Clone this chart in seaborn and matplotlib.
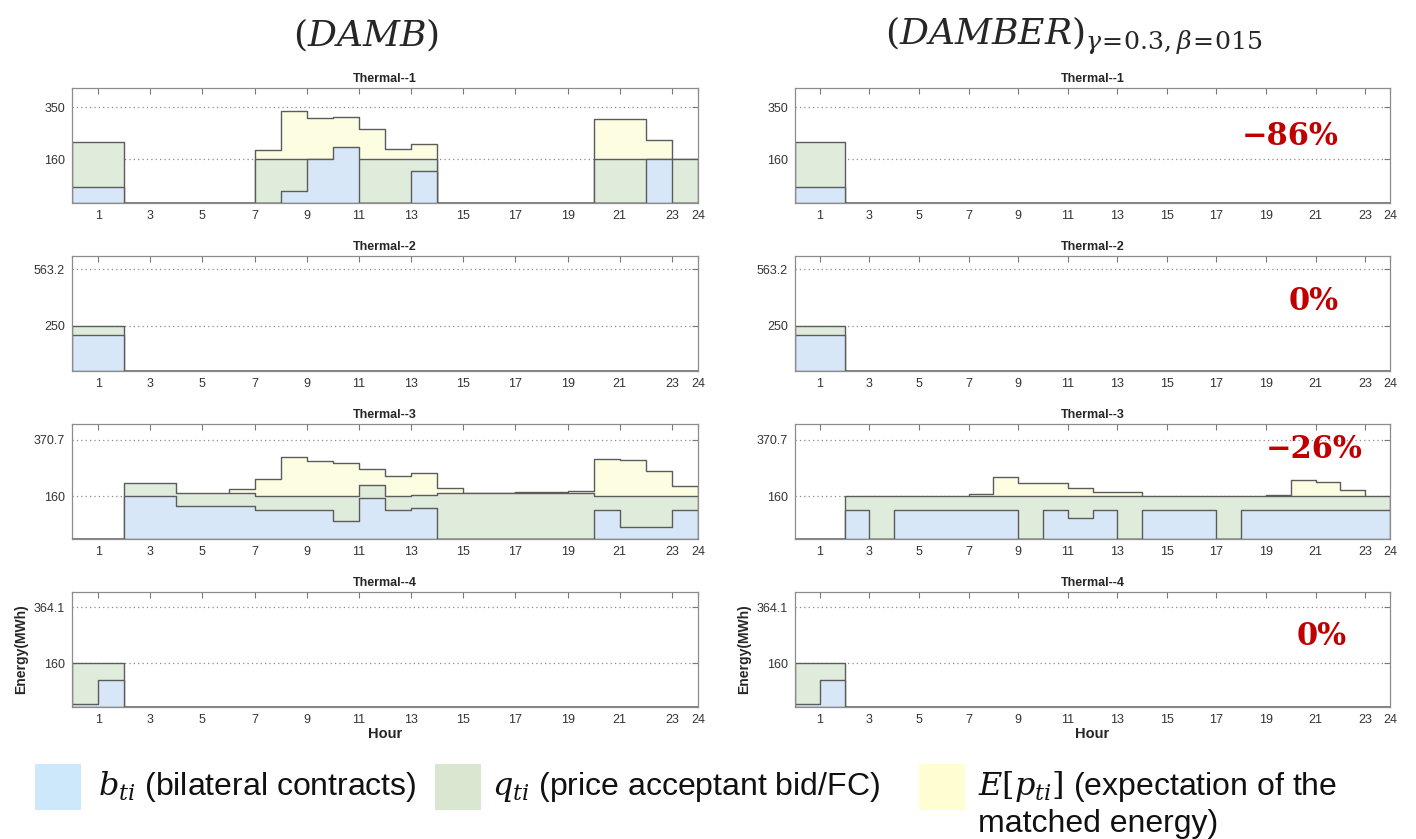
import numpy as np
import pandas as pd
import matplotlib
matplotlib.use("Agg")
import matplotlib.pyplot as plt
from matplotlib.patches import Rectangle
import seaborn as sns

# ---------------- data ----------------
hours = np.arange(24) + 0.5          # interval [h, h+1]
x_ticks = [1, 3, 5, 7, 9, 11, 13, 15, 17, 19, 21, 23, 24]
unit_names = ["Thermal--1", "Thermal--2", "Thermal--3", "Thermal--4"]
y_caps = [350, 563.2, 370.7, 364.1]
y_ref = [160, 250, 160, 160]
y_tops = [420, 635, 430, 420]

# DAMB (left column)
damb_b1 = [60, 60, 0, 0, 0, 0, 0, 0, 44, 160, 204, 0, 0, 116, 0, 0, 0, 0, 0, 0, 0, 0, 160, 0]
damb_q1 = [222, 222, 0, 0, 0, 0, 0, 160, 160, 160, 160, 160, 160, 160, 0, 0, 0, 0, 0, 0, 160, 160, 160, 160]
damb_e1 = [0, 0, 0, 0, 0, 0, 0, 194, 335, 310, 315, 270, 197, 216, 0, 0, 0, 0, 0, 0, 306, 306, 231, 160]

damb_b2 = [200, 200] + [0] * 22
damb_q2 = [250, 250] + [0] * 22
damb_e2 = [0] * 24

damb_b3 = [0, 0, 160, 160, 124, 124, 124, 109, 109, 109, 68, 154, 109, 117, 0, 0, 0, 0, 0, 0, 107, 46, 46, 107]
damb_q3 = [0, 0, 208, 208, 173, 173, 173, 160, 160, 160, 160, 203, 160, 166, 173, 173, 173, 173, 173, 173, 160, 160, 160, 160]
damb_e3 = [0, 0, 0, 0, 0, 0, 186, 225, 308, 290, 285, 263, 236, 245, 189, 173, 173, 176, 176, 180, 299, 295, 254, 197]

damb_b4 = [10, 100] + [0] * 22
damb_q4 = [160, 160] + [0] * 22
damb_e4 = [0] * 24

# DAMBER (right column)
dambr_b1 = [60, 60] + [0] * 22
dambr_q1 = [222, 222] + [0] * 22
dambr_e1 = [0] * 24

dambr_b2 = [200, 200] + [0] * 22
dambr_q2 = [250, 250] + [0] * 22
dambr_e2 = [0] * 24

dambr_b3 = [0, 0, 108, 0, 108, 108, 108, 108, 108, 0, 108, 77, 108, 0, 108, 108, 108, 0, 108, 108, 108, 108, 108, 108]
dambr_q3 = [0, 0] + [160] * 22
dambr_e3 = [0, 0, 0, 0, 0, 0, 0, 170, 230, 210, 210, 192, 176, 176, 0, 0, 0, 0, 0, 163, 222, 214, 182, 0]

dambr_b4 = [10, 100] + [0] * 22
dambr_q4 = [160, 160] + [0] * 22
dambr_e4 = [0] * 24

changes = ["\u221286%", "0%", "\u221226%", "0%"]
change_x = [0.832, 0.872, 0.872, 0.886]
change_y = [0.58, 0.60, 0.78, 0.61]

damb = [(damb_b1, damb_q1, damb_e1), (damb_b2, damb_q2, damb_e2),
        (damb_b3, damb_q3, damb_e3), (damb_b4, damb_q4, damb_e4)]
dambr = [(dambr_b1, dambr_q1, dambr_e1), (dambr_b2, dambr_q2, dambr_e2),
         (dambr_b3, dambr_q3, dambr_e3), (dambr_b4, dambr_q4, dambr_e4)]

# ---------------- style ----------------
sns.set_theme(style="white")
plt.rcParams["font.family"] = ["Liberation Sans", "DejaVu Sans"]
plt.rcParams["mathtext.fontset"] = "dejavuserif"

C_BLUE = "#d8e7f7"
C_GREEN = "#dfebdb"
C_YELLOW = "#fdfde2"
C_EDGE = "#5c5c5c"

W, H = 1416, 839
fig = plt.figure(figsize=(W / 100, H / 100), dpi=100)


def frac(left, top, width, height):
    return [left / W, 1 - (top + height) / H, width / W, height / H]


col_geom = [(72, 626), (795, 595)]
row_tops = [88, 256, 424, 592]
ax_h = 115


def draw_panel(ax, b, q, e, i, bottom):
    for vals, col in [(e, C_YELLOW), (q, C_GREEN), (b, C_BLUE)]:
        df = pd.DataFrame({"hour": hours, "energy": vals})
        sns.histplot(data=df, x="hour", weights="energy", bins=24, binrange=(0, 24),
                     element="step", fill=True, color=col, facecolor=col,
                     edgecolor=C_EDGE, alpha=1, linewidth=1.0, ax=ax)
    ax.set_xlim(0, 24)
    ax.set_ylim(0, y_tops[i])
    ax.set_xticks(x_ticks)
    ax.set_xticklabels([str(t) for t in x_ticks])
    ax.set_yticks([y_ref[i], y_caps[i]])
    ax.set_yticklabels([f"{v:g}" for v in [y_ref[i], y_caps[i]]])
    ax.yaxis.grid(True, linestyle=(0, (1, 2.5)), color="#8a8a8a", linewidth=0.9)
    ax.xaxis.grid(False)
    ax.set_axisbelow(True)
    ax.tick_params(direction="in", top=True, right=True, length=4, width=0.8,
                   color="#7a7a7a", labelsize=9, labelcolor="#333333", pad=5)
    for sp in ax.spines.values():
        sp.set_color("#8c8c8c")
        sp.set_linewidth(0.9)
    ax.set_title(unit_names[i], fontsize=9, fontweight="bold", pad=4)
    if bottom:
        ax.set_xlabel("Hour", fontsize=10.5, fontweight="bold", labelpad=1)
        ax.set_ylabel("Energy(MWh)", fontsize=10, fontweight="bold", labelpad=4)
    else:
        ax.set_xlabel("")
        ax.set_ylabel("")


for c, data in enumerate([damb, dambr]):
    left, width = col_geom[c]
    for i in range(4):
        ax = fig.add_axes(frac(left, row_tops[i], width, ax_h))
        b, q, e = data[i]
        draw_panel(ax, b, q, e, i, bottom=(i == 3))
        if c == 1:
            ax.text(change_x[i], change_y[i], changes[i], transform=ax.transAxes,
                    ha="center", va="center", fontsize=22, fontweight="bold",
                    color="#c00000", family=["DejaVu Serif"])

# column headings
fig.text(366 / W, 1 - 36 / H, r"$(DAMB)$", ha="center", va="center", fontsize=26)
fig.text(885 / W, 1 - 36 / H,
         r"$(DAMBER)_{\gamma\!=\!0.3,\beta\!=\!015}$", ha="left",
         va="center", fontsize=26)

# legend
legend_squares = [(35, "#cde8fb"), (435, "#d9e7d0"), (919, "#fefed2")]
legend_labels = [r"$b_{ti}$ (bilateral contracts)",
                 r"$q_{ti}$ (price acceptant bid/FC)",
                 r"$E[p_{ti}]$ (expectation of the"]
legend_text_x = [98, 492, 978]
for (sx, scol), tx, label in zip(legend_squares, legend_text_x, legend_labels):
    fig.add_artist(Rectangle((sx / W, 1 - 810 / H), 46 / W, 46 / H,
                             transform=fig.transFigure, facecolor=scol,
                             edgecolor="none"))
    fig.text(tx / W, 1 - 787 / H, label, ha="left", va="center",
             fontsize=23, color="#111111")
fig.text(978 / W, 1 - 824 / H, "matched energy)", ha="left", va="center",
         fontsize=23, color="#111111")

fig.savefig("out.png", dpi=100)
